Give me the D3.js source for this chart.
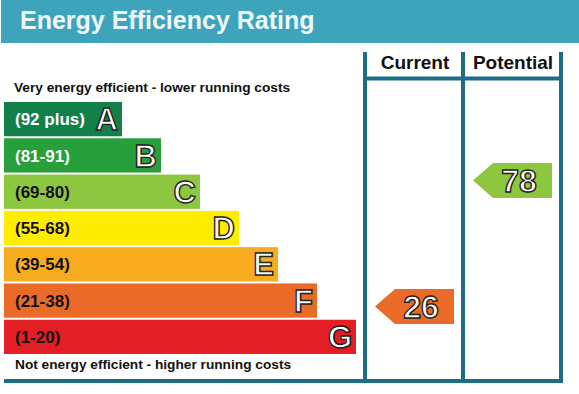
<!DOCTYPE html>
<html>
<head>
<meta charset="utf-8">
<script src="https://cdn.jsdelivr.net/npm/d3@7"></script>
<style>
  body { margin: 0; background: #fff; }
  svg { display: block; font-family: "Liberation Sans", Arial, sans-serif; }
</style>
</head>
<body>
<div id="chart"></div>
<script>
// Energy Efficiency Rating chart

const bands = ['A', 'B', 'C', 'D', 'E', 'F', 'G'];
const ranges = ['(92 plus)', '(81-91)', '(69-80)', '(55-68)', '(39-54)', '(21-38)', '(1-20)'];
const bandMin = [92, 81, 69, 55, 39, 21, 1];
const bandColours = ['#138049', '#27a03b', '#8dc63f', '#ffed00', '#f6ac1e', '#ea6a28', '#e31e25'];
const rangeTextColours = ['#fff', '#fff', '#111', '#111', '#111', '#111', '#111'];
const columns = ['Current', 'Potential'];
const ratings = [26, 78];

const CFG = {
  width: 579,
  height: 394,
  headerColour: '#3ea4bc',
  lineColour: '#1d6d87',
};

function bandOf(value) {
  return bandMin.findIndex(m => value >= m);
}

function init() {
  const svg = d3.select('#chart')
    .append('svg')
    .attr('width', CFG.width)
    .attr('height', CFG.height);

  // title band
  svg.append('rect')
    .attr('x', 1).attr('y', 0)
    .attr('width', CFG.width - 1).attr('height', 43)
    .attr('fill', CFG.headerColour);

  svg.append('text')
    .attr('x', 20).attr('y', 29)
    .attr('fill', '#eef8fa')
    .attr('font-size', 25)
    .attr('font-weight', 'bold')
    .text('Energy Efficiency Rating');

  const y = d3.scaleBand()
    .domain(bands)
    .range([102, 354])
    .paddingInner(0.056);

  const barEnd = d3.scalePoint()
    .domain(bands)
    .range([122, 356]);

  const col = d3.scaleBand()
    .domain(columns)
    .range([365, 561]);

  const ratingY = d3.scaleLinear()
    .domain([0, 100])
    .range([369.5, 127.2]);

  svg.append('text')
    .attr('x', 14).attr('y', 92)
    .attr('font-size', 13.7)
    .attr('font-weight', 'bold')
    .attr('fill', '#111')
    .text('Very energy efficient - lower running costs');

  svg.append('text')
    .attr('x', 15).attr('y', 369)
    .attr('font-size', 13.7)
    .attr('font-weight', 'bold')
    .attr('fill', '#111')
    .text('Not energy efficient - higher running costs');

  const rows = svg.append('g')
    .selectAll('g')
    .data(bands)
    .join('g');

  rows.append('rect')
    .attr('x', 4)
    .attr('y', d => y(d))
    .attr('width', d => barEnd(d) - 4)
    .attr('height', y.bandwidth())
    .attr('fill', (d, i) => bandColours[i]);

  rows.append('text')
    .attr('x', 15)
    .attr('y', d => y(d) + y.bandwidth() / 2)
    .attr('dy', '0.36em')
    .attr('font-size', 17)
    .attr('font-weight', 'bold')
    .attr('fill', (d, i) => rangeTextColours[i])
    .text((d, i) => ranges[i]);

  rows.append('text')
    .attr('x', d => barEnd(d) - 4)
    .attr('y', d => y(d) + y.bandwidth() / 2)
    .attr('dy', '0.36em')
    .attr('text-anchor', 'end')
    .attr('font-size', 31)
    .attr('font-weight', 'bold')
    .attr('fill', '#fff')
    .attr('stroke', '#222')
    .attr('stroke-width', 1.4)
    .text(d => d);

  // column frame
  const frame = svg.append('g')
    .attr('stroke', CFG.lineColour)
    .attr('stroke-width', 4);

  col.domain().concat(['end']).forEach((c, i) => {
    const x = i < columns.length ? col(c) : col.range()[1];
    frame.append('line')
      .attr('x1', x).attr('x2', x)
      .attr('y1', 52).attr('y2', 383);
  });

  frame.append('line')
    .attr('x1', col.range()[0]).attr('x2', col.range()[1])
    .attr('y1', 78.5).attr('y2', 78.5);

  frame.append('line')
    .attr('x1', 4).attr('x2', col.range()[1] + 2)
    .attr('y1', 381).attr('y2', 381);

  svg.selectAll('.colhead')
    .data(columns)
    .join('text')
    .attr('class', 'colhead')
    .attr('x', d => col(d) + col.bandwidth() / 2 + 1)
    .attr('y', 69)
    .attr('text-anchor', 'middle')
    .attr('font-size', 19)
    .attr('font-weight', 'bold')
    .attr('fill', '#111')
    .text(d => d);

  // rating arrows
  const arrowH = 35;
  const tip = 20;
  const arrows = svg.selectAll('.arrow')
    .data(ratings)
    .join('g')
    .attr('class', 'arrow');

  arrows.append('path')
    .attr('d', (v, i) => {
      const x0 = col(columns[i]) + 10;
      const x1 = col(columns[i]) + col.bandwidth() - 9;
      const cy = ratingY(v);
      return `M${x0},${cy} L${x0 + tip},${cy - arrowH / 2} L${x1},${cy - arrowH / 2} ` +
        `L${x1},${cy + arrowH / 2} L${x0 + tip},${cy + arrowH / 2} Z`;
    })
    .attr('fill', v => bandColours[bandOf(v)]);

  arrows.append('text')
    .attr('x', (v, i) => col(columns[i]) + col.bandwidth() / 2 + 7)
    .attr('y', v => ratingY(v))
    .attr('dy', '0.36em')
    .attr('text-anchor', 'middle')
    .attr('font-size', 32)
    .attr('font-weight', 'bold')
    .attr('fill', '#fff')
    .attr('stroke', '#222')
    .attr('stroke-width', 1.4)
    .text(v => v);
}

init();
</script>
</body>
</html>
